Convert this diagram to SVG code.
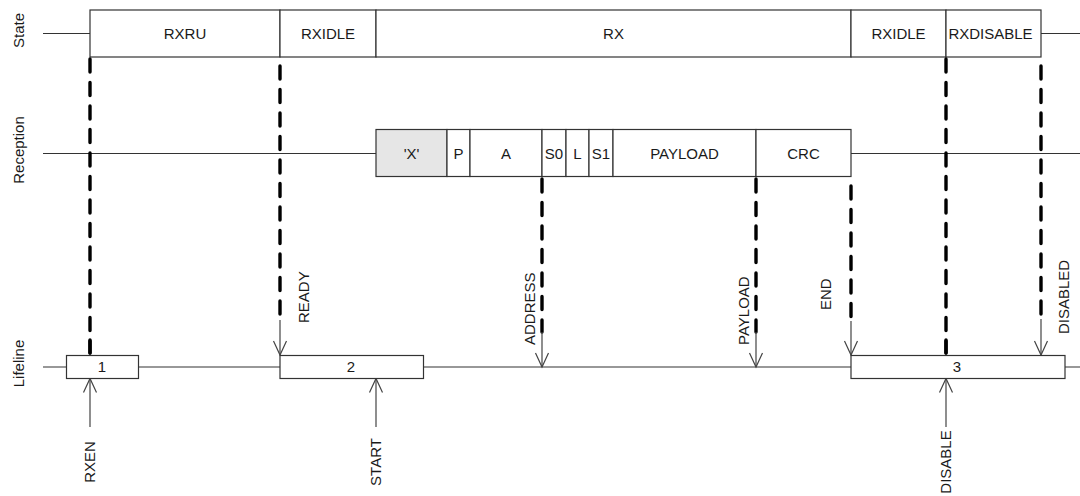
<svg xmlns="http://www.w3.org/2000/svg" width="1080" height="496" viewBox="0 0 1080 496">
<style>
text{font-family:"Liberation Sans",Arial,sans-serif;font-size:15px;fill:#1a1a1a}
.c{text-anchor:middle}
.box{fill:#fff;stroke:#333;stroke-width:1.2}
.grey{fill:#e6e6e6;stroke:#333;stroke-width:1.2}
.ln{fill:none;stroke:#333;stroke-width:1.2}
.dash{fill:none;stroke:#000;stroke-width:3.4;stroke-linecap:round;stroke-dasharray:13 10.5}
.arr{fill:none;stroke:#444;stroke-width:1.2;marker-end:url(#ah)}
</style>
<defs>
<marker id="ah" markerUnits="userSpaceOnUse" markerWidth="18" markerHeight="18" viewBox="-16 -9 18 18" refX="0" refY="0" orient="auto">
<path d="M-14,-6.5 L0,0 L-14,6.5" fill="none" stroke="#444" stroke-width="1.2"/>
</marker>
</defs>
<rect width="1080" height="496" fill="#fff"/>

<g id="row-labels">
<text class="c" transform="translate(24,30.5) rotate(-90)">State</text>
<text class="c" transform="translate(24,150) rotate(-90)">Reception</text>
<text class="c" transform="translate(24,363.5) rotate(-90)">Lifeline</text>
</g>

<g id="baselines">
<line class="ln" x1="43" y1="33.5" x2="90" y2="33.5"/>
<line class="ln" x1="1041" y1="33.5" x2="1080" y2="33.5"/>
<line class="ln" x1="43" y1="153.5" x2="376" y2="153.5"/>
<line class="ln" x1="851" y1="153.5" x2="1080" y2="153.5"/>
<line class="ln" x1="43" y1="367" x2="1080" y2="367"/>
</g>

<g id="state-RXRU"><rect class="box" x="90" y="10" width="190" height="47"/><text class="c" x="185" y="39">RXRU</text></g>
<g id="state-RXIDLE1"><rect class="box" x="280" y="10" width="96" height="47"/><text class="c" x="328" y="39">RXIDLE</text></g>
<g id="state-RX"><rect class="box" x="376" y="10" width="475" height="47"/><text class="c" x="613.5" y="39">RX</text></g>
<g id="state-RXIDLE2"><rect class="box" x="851" y="10" width="95" height="47"/><text class="c" x="898.5" y="39">RXIDLE</text></g>
<g id="state-RXDISABLE"><rect class="box" x="946" y="10" width="95" height="47"/><text class="c" x="990.5" y="39">RXDISABLE</text></g>

<g id="rx-X"><rect class="grey" x="376" y="129.5" width="71" height="47"/><text class="c" x="411.5" y="158.5">'X'</text></g>
<g id="rx-P"><rect class="box" x="447" y="129.5" width="23" height="47"/><text class="c" x="458.5" y="158.5">P</text></g>
<g id="rx-A"><rect class="box" x="470" y="129.5" width="72" height="47"/><text class="c" x="506" y="158.5">A</text></g>
<g id="rx-S0"><rect class="box" x="542" y="129.5" width="24" height="47"/><text class="c" x="554" y="158.5">S0</text></g>
<g id="rx-L"><rect class="box" x="566" y="129.5" width="23" height="47"/><text class="c" x="577.5" y="158.5">L</text></g>
<g id="rx-S1"><rect class="box" x="589" y="129.5" width="24" height="47"/><text class="c" x="601" y="158.5">S1</text></g>
<g id="rx-PAYLOAD"><rect class="box" x="613" y="129.5" width="143" height="47"/><text class="c" x="684.5" y="158.5">PAYLOAD</text></g>
<g id="rx-CRC"><rect class="box" x="756" y="129.5" width="95" height="47"/><text class="c" x="803.5" y="158.5">CRC</text></g>

<g id="connectors">
<line class="dash" x1="90" y1="59" x2="90" y2="353"/>
<line class="dash" x1="280" y1="66" x2="280" y2="320"/>
<line class="arr" x1="280" y1="320" x2="280" y2="355"/>
<line class="dash" x1="542" y1="179" x2="542" y2="332"/>
<line class="arr" x1="542" y1="332" x2="542" y2="367"/>
<line class="dash" x1="756" y1="179" x2="756" y2="332"/>
<line class="arr" x1="756" y1="332" x2="756" y2="367"/>
<line class="dash" x1="851" y1="186" x2="851" y2="321"/>
<line class="arr" x1="851" y1="321" x2="851" y2="355"/>
<line class="dash" x1="946" y1="59" x2="946" y2="353"/>
<line class="dash" x1="1041" y1="66" x2="1041" y2="319"/>
<line class="arr" x1="1041" y1="319" x2="1041" y2="355"/>
<line class="arr" x1="90" y1="427" x2="90" y2="378.5"/>
<line class="arr" x1="376" y1="427" x2="376" y2="378.5"/>
<line class="arr" x1="946" y1="427" x2="946" y2="378.5"/>
</g>

<g id="life-1"><rect class="box" x="66.5" y="355.5" width="72" height="23"/><text class="c" x="102" y="372">1</text></g>
<g id="life-2"><rect class="box" x="280" y="355.5" width="143.5" height="23"/><text class="c" x="351" y="372">2</text></g>
<g id="life-3"><rect class="box" x="851" y="355.5" width="214" height="23"/><text class="c" x="957" y="372">3</text></g>
<g id="dash-overlays">
<line class="dash" x1="90" y1="340" x2="90" y2="354"/>
<line class="dash" x1="946" y1="340" x2="946" y2="354"/>
</g>

<g id="event-labels">
<text transform="translate(308.5,323) rotate(-90)">READY</text>
<text transform="translate(534.5,345) rotate(-90)">ADDRESS</text>
<text transform="translate(748.5,345) rotate(-90)">PAYLOAD</text>
<text transform="translate(831,310) rotate(-90)">END</text>
<text transform="translate(1068.5,334) rotate(-90)">DISABLED</text>
<text class="c" transform="translate(95.4,462) rotate(-90)">RXEN</text>
<text class="c" transform="translate(381.4,462) rotate(-90)">START</text>
<text class="c" transform="translate(951,462) rotate(-90)">DISABLE</text>
</g>
</svg>
